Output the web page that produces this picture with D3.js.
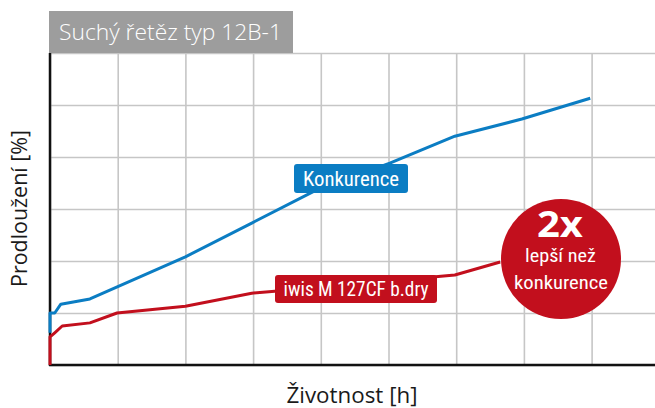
<!DOCTYPE html>
<html>
<head>
<meta charset="utf-8">
<script src="https://cdn.jsdelivr.net/npm/d3@7"></script>
<style>
  body { margin: 0; background: #fff; }
  svg { display: block; }
</style>
</head>
<body>
<div id="chart"></div>
<script>
"use strict";

// data (grid units: x = one vertical grid step, y = one horizontal grid step)
var titleText = "Suchý řetěz typ 12B-1";
var xLabel = "Životnost [h]";
var yLabel = "Prodloužení [%]";

var konkurenceX = [0, 0, 0.07, 0.16, 0.59, 2.0, 2.98, 3.99, 5.02, 5.98, 6.97, 7.98];
var konkurenceY = [0.62, 1.0, 1.0, 1.17, 1.27, 2.08, 2.73, 3.40, 3.88, 4.40, 4.73, 5.13];

var iwisX = [0, 0, 0.07, 0.18, 0.59, 0.99, 2.0, 2.98, 3.32, 5.98, 6.65];
var iwisY = [0, 0.54, 0.62, 0.75, 0.81, 1.0, 1.13, 1.38, 1.42, 1.73, 1.98];

var seriesNames = ["Konkurence", "iwis M 127CF b.dry"];
var badgeLines = ["2x", "lepší než", "konkurence"];

var xTicks = d3.range(0, 10);
var yTicks = d3.range(0, 7);

var BLUE = "#0b7dc3";
var RED = "#c20f1d";
var GRID = "#c6c6c6";

var W = 655, H = 408;
var margin = { top: 53, left: 50, bottom: 43 };
var height = H - margin.top - margin.bottom;

var svg = d3.select("#chart").append("svg")
    .attr("width", W)
    .attr("height", H)
    .style("font-family", "'Open Sans', 'Noto Sans', sans-serif");

// scales
var x = d3.scaleLinear().domain([0, 9]).range([margin.left, margin.left + 9 * 67.7]);
var y = d3.scaleLinear().domain([0, 6]).range([margin.top + height, margin.top]);

// grid
svg.append("g")
    .attr("transform", `translate(0,${margin.top + height})`)
    .call(d3.axisBottom(x).tickValues(xTicks).tickSize(-height).tickFormat(""))
    .call(g => g.select(".domain").remove())
    .selectAll("line")
    .attr("stroke", GRID)
    .attr("stroke-width", 1.6);

svg.append("g")
    .attr("transform", `translate(${margin.left},0)`)
    .call(d3.axisLeft(y).tickValues(yTicks).tickSize(-(W - margin.left)).tickFormat(""))
    .call(g => g.select(".domain").remove())
    .selectAll("line")
    .attr("stroke", GRID)
    .attr("stroke-width", 1.6);

// axes lines
svg.append("line")
    .attr("x1", x(0)).attr("x2", x(0))
    .attr("y1", y(6)).attr("y2", y(0) + 1)
    .attr("stroke", "#111").attr("stroke-width", 2.5);
svg.append("line")
    .attr("x1", x(0) - 1).attr("x2", W)
    .attr("y1", y(0)).attr("y2", y(0))
    .attr("stroke", "#111").attr("stroke-width", 2.5);

// title box
svg.append("rect")
    .attr("x", 49).attr("y", 11)
    .attr("width", 244).attr("height", 42)
    .attr("fill", "#9d9d9d");
svg.append("text")
    .attr("x", 59).attr("y", 40)
    .attr("fill", "#fff")
    .attr("font-size", 22)
    .attr("font-weight", 300)
    .attr("textLength", 223)
    .attr("lengthAdjust", "spacingAndGlyphs")
    .text(titleText);

// lines
var line = d3.line()
    .x(d => x(d[0]))
    .y(d => y(d[1]));

var konkurence = konkurenceX.map((v, i) => [v, konkurenceY[i]]);
var iwis = iwisX.map((v, i) => [v, iwisY[i]]);

svg.append("path")
    .datum(konkurence)
    .attr("fill", "none")
    .attr("stroke", BLUE)
    .attr("stroke-width", 3)
    .attr("stroke-linejoin", "round")
    .attr("d", line);

svg.append("path")
    .datum(iwis)
    .attr("fill", "none")
    .attr("stroke", RED)
    .attr("stroke-width", 3)
    .attr("stroke-linejoin", "round")
    .attr("d", line);

// labels on lines
var condensed = "'Liberation Sans Narrow', 'Roboto Condensed', 'Arial Narrow', Roboto, sans-serif";

function tag(cx, cy, w, h, color, txt, tw, fs) {
    svg.append("rect")
        .attr("x", cx - w / 2).attr("y", cy - h / 2)
        .attr("width", w).attr("height", h)
        .attr("rx", 3)
        .attr("fill", color);
    svg.append("text")
        .attr("x", cx).attr("y", cy + fs * 0.36)
        .attr("text-anchor", "middle")
        .attr("fill", "#fff")
        .attr("font-family", condensed)
        .attr("font-size", fs)
        .attr("textLength", tw)
        .attr("lengthAdjust", "spacingAndGlyphs")
        .text(txt);
}

tag(351, 178.5, 114, 29, BLUE, seriesNames[0], 96, 21);
tag(356, 289, 162, 28, RED, seriesNames[1], 145, 20);

// badge
svg.append("circle")
    .attr("cx", 561).attr("cy", 259).attr("r", 60)
    .attr("fill", RED);
svg.append("text")
    .attr("x", 560).attr("y", 237)
    .attr("text-anchor", "middle")
    .attr("fill", "#fff")
    .attr("font-family", "'Open Sans', 'Noto Sans', sans-serif")
    .attr("font-weight", 700)
    .attr("font-size", 35)
    .attr("textLength", 46)
    .attr("lengthAdjust", "spacingAndGlyphs")
    .text(badgeLines[0]);
svg.append("text")
    .attr("x", 560.5).attr("y", 262)
    .attr("text-anchor", "middle")
    .attr("fill", "#fff")
    .attr("font-family", condensed)
    .attr("font-size", 18)
    .attr("textLength", 71)
    .attr("lengthAdjust", "spacingAndGlyphs")
    .text(badgeLines[1]);
svg.append("text")
    .attr("x", 561).attr("y", 289)
    .attr("text-anchor", "middle")
    .attr("fill", "#fff")
    .attr("font-family", condensed)
    .attr("font-size", 19)
    .attr("textLength", 94)
    .attr("lengthAdjust", "spacingAndGlyphs")
    .text(badgeLines[2]);

// axis titles
svg.append("text")
    .attr("x", 352).attr("y", 403)
    .attr("text-anchor", "middle")
    .attr("fill", "#1a1a1a")
    .attr("font-size", 21)
    .attr("textLength", 131)
    .attr("lengthAdjust", "spacingAndGlyphs")
    .text(xLabel);

svg.append("text")
    .attr("transform", "translate(27,208.5) rotate(-90)")
    .attr("text-anchor", "middle")
    .attr("fill", "#1a1a1a")
    .attr("font-size", 21)
    .attr("textLength", 157)
    .attr("lengthAdjust", "spacingAndGlyphs")
    .text(yLabel);
</script>
</body>
</html>
